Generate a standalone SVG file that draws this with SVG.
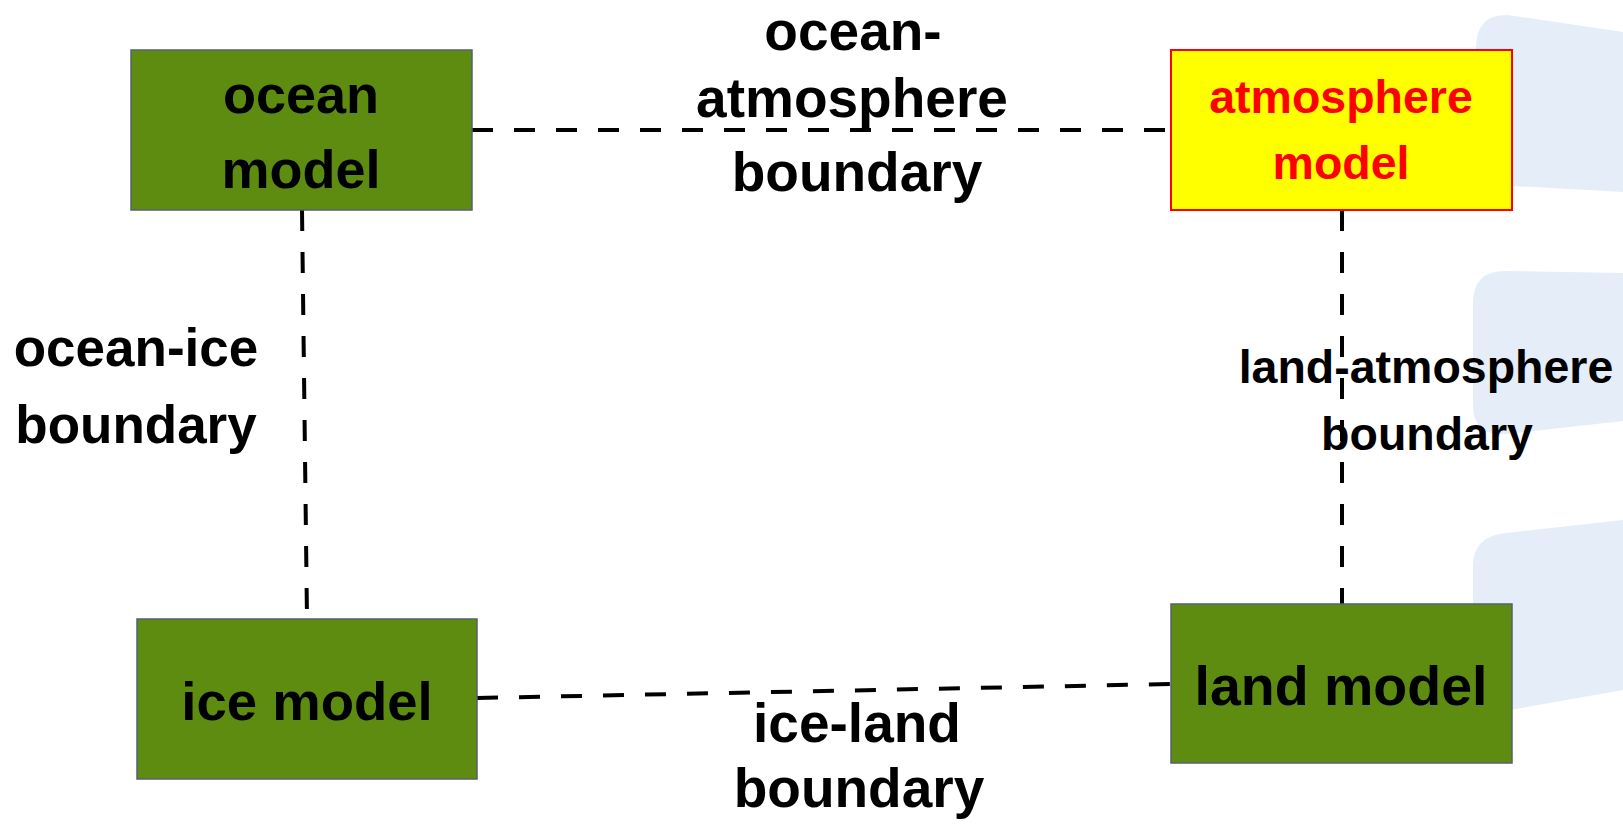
<svg xmlns="http://www.w3.org/2000/svg" width="1623" height="831" viewBox="0 0 1623 831">
  <style>
    .bg { fill: #e5eef8; }
    .box { fill: #5e8c11; stroke: #56606e; stroke-width: 1.5; }
    .box-hi { fill: #ffff00; stroke: #ff0000; stroke-width: 2; }
    .lbl { font-family: "Liberation Sans", Arial, sans-serif; font-weight: bold; fill: #000000; text-anchor: middle; }
    .lbl-hi { fill: #ff0000; }
    .link { fill: none; stroke: #000000; stroke-width: 4; stroke-dasharray: 21 21; }
  </style>

  <rect x="0" y="0" width="1623" height="831" fill="#ffffff"/>

  <!-- pale tab shapes along the right edge -->
  <g id="background">
    <path class="bg" d="M1508,15 L1623,32 L1623,192 L1476,184 L1476,48 Q1476,14 1508,15 Z"/>
    <path class="bg" d="M1505,271 L1623,273 L1623,421 L1505,434 Q1473,436 1473,405 L1473,303 Q1473,271 1505,271 Z"/>
    <path class="bg" d="M1506,533 L1623,520 L1623,690 L1505,711 Q1473,716 1473,685 L1473,566 Q1473,536 1506,533 Z"/>
  </g>

  <!-- dashed coupling lines between the component models -->
  <g id="connectors">
    <line class="link" x1="472" y1="130" x2="1171" y2="130"/>
    <line class="link" x1="302" y1="210" x2="307" y2="619"/>
    <line class="link" x1="1342" y1="210" x2="1342" y2="604"/>
    <line class="link" x1="477" y1="698" x2="1171" y2="684"/>
  </g>

  <g id="ocean-model">
    <rect class="box" x="131" y="50" width="341" height="160"/>
    <text class="lbl" x="301" y="113" font-size="54">ocean</text>
    <text class="lbl" x="301" y="188" font-size="54">model</text>
  </g>

  <g id="atmosphere-model">
    <rect class="box-hi" x="1171" y="50" width="341" height="160"/>
    <text class="lbl lbl-hi" x="1341" y="113" font-size="46.5">atmosphere</text>
    <text class="lbl lbl-hi" x="1341" y="179" font-size="46.5">model</text>
  </g>

  <g id="ice-model">
    <rect class="box" x="137" y="619" width="340" height="160"/>
    <text class="lbl" x="307" y="720" font-size="54.5">ice model</text>
  </g>

  <g id="land-model">
    <rect class="box" x="1171" y="604" width="341" height="159"/>
    <text class="lbl" x="1341" y="705" font-size="55.5">land model</text>
  </g>

  <!-- boundary labels -->
  <g id="ocean-atmosphere-label">
    <text class="lbl" x="853" y="50" font-size="55">ocean-</text>
    <text class="lbl" x="852" y="117" font-size="55">atmosphere</text>
    <text class="lbl" x="857" y="191" font-size="55">boundary</text>
  </g>

  <g id="ocean-ice-label">
    <text class="lbl" x="136" y="366" font-size="53">ocean-ice</text>
    <text class="lbl" x="136" y="443" font-size="53">boundary</text>
  </g>

  <g id="land-atmosphere-label">
    <text class="lbl" x="1426" y="383" font-size="46.5">land-atmosphere</text>
    <text class="lbl" x="1427" y="450" font-size="46.5">boundary</text>
  </g>

  <g id="ice-land-label">
    <text class="lbl" x="857" y="742" font-size="55">ice-land</text>
    <text class="lbl" x="859" y="807" font-size="55">boundary</text>
  </g>
</svg>
